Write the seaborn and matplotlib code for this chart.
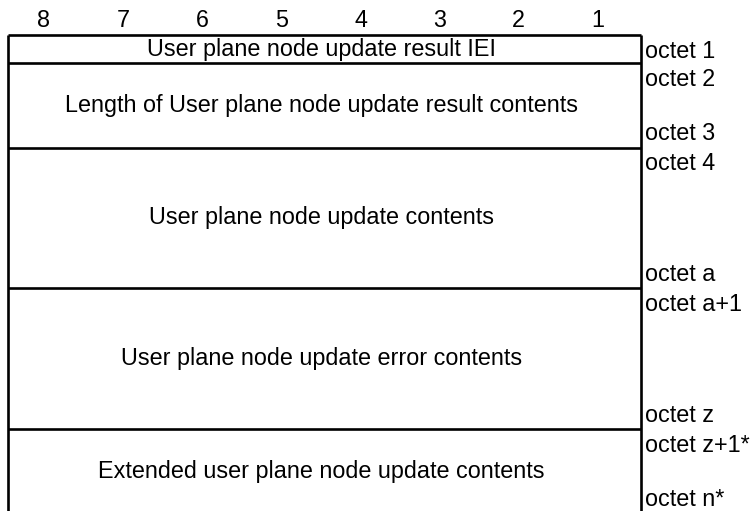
import numpy as np
import matplotlib
matplotlib.use("Agg")
import matplotlib.pyplot as plt
import seaborn as sns

# Bit numbers across the top (left = most significant)
bit_labels = ["8", "7", "6", "5", "4", "3", "2", "1"]

# Fields of the information element, top to bottom
field_names = [
    "User plane node update result IEI",
    "Length of User plane node update result contents",
    "User plane node update contents",
    "User plane node update error contents",
    "Extended user plane node update contents",
]
# Height of each field in diagram rows
field_rows = [1, 3, 5, 5, 3]
# Octet labels at the first and last row of each field
octet_first = ["octet 1", "octet 2", "octet 4", "octet a+1", "octet z+1*"]
octet_last = ["", "octet 3", "octet a", "octet z", "octet n*"]

sns.set_theme(style="white")
plt.rcParams["font.family"] = ["Liberation Sans", "DejaVu Sans"]

fig = plt.figure(figsize=(7.53, 5.11), dpi=100)
ax = fig.add_axes([0, 0, 1, 1])
ax.set_xlim(-0.095, 9.419)
ax.set_ylim(16.92, -1.244)
ax.set_axis_off()

fs = 16.8
lw = 1.9
n_bits = len(bit_labels)

# bit numbers
for i, b in enumerate(bit_labels):
    ax.text(i + 0.46, -0.52, b, ha="center", va="center", fontsize=fs, color="black")

bounds = np.concatenate([[0], np.cumsum(field_rows)])

# outer box sides and row separators
ax.vlines([0, n_bits], bounds[0], bounds[-1], colors="black", linewidth=lw)
ax.hlines(bounds, 0, n_bits, colors="black", linewidth=lw)

for name, top, bot, first, last in zip(field_names, bounds[:-1], bounds[1:], octet_first, octet_last):
    ax.text(n_bits / 2 - 0.03, (top + bot) / 2, name, ha="center", va="center",
            fontsize=fs, color="black")
    ax.text(n_bits + 0.055, top + 0.17, first, ha="left", va="top", fontsize=fs, color="black")
    if last:
        ax.text(n_bits + 0.055, bot - 0.25, last, ha="left", va="baseline",
                fontsize=fs, color="black")

fig.savefig("out.png", dpi=100)
